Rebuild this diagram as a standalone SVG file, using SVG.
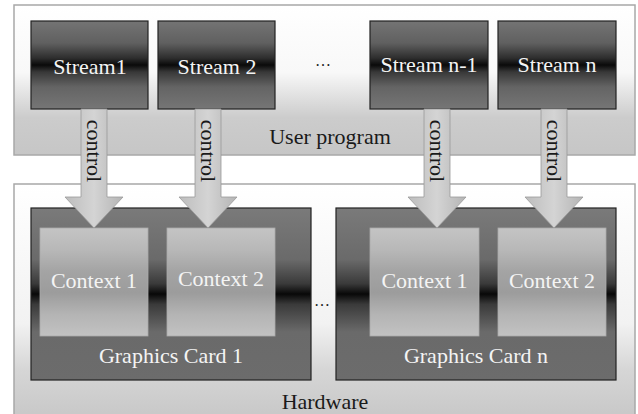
<svg xmlns="http://www.w3.org/2000/svg" width="638" height="414" viewBox="0 0 638 414">
<defs>
<linearGradient id="gOuter" x1="0" y1="0" x2="0" y2="1">
<stop offset="0" stop-color="#ffffff"/>
<stop offset="0.45" stop-color="#f8f8f8"/>
<stop offset="0.6" stop-color="#e2e2e2"/>
<stop offset="0.75" stop-color="#cccccc"/>
<stop offset="1" stop-color="#c6c6c6"/>
</linearGradient>
<linearGradient id="gHw" x1="0" y1="0" x2="0" y2="1">
<stop offset="0" stop-color="#ffffff"/>
<stop offset="0.6" stop-color="#f2f2f2"/>
<stop offset="0.8" stop-color="#d6d6d6"/>
<stop offset="1" stop-color="#c8c8c8"/>
</linearGradient>
<linearGradient id="gStream" x1="0" y1="0" x2="0" y2="1">
<stop offset="0" stop-color="#747474"/>
<stop offset="0.25" stop-color="#606060"/>
<stop offset="0.42" stop-color="#2e2e2e"/>
<stop offset="0.5" stop-color="#0a0a0a"/>
<stop offset="0.58" stop-color="#383838"/>
<stop offset="0.75" stop-color="#646464"/>
<stop offset="1" stop-color="#767676"/>
</linearGradient>
<linearGradient id="gCard" x1="0" y1="0" x2="0" y2="1">
<stop offset="0" stop-color="#7a7a7a"/>
<stop offset="0.3" stop-color="#6a6a6a"/>
<stop offset="0.44" stop-color="#3a3a3a"/>
<stop offset="0.5" stop-color="#080808"/>
<stop offset="0.56" stop-color="#3a3a3a"/>
<stop offset="0.72" stop-color="#6a6a6a"/>
<stop offset="1" stop-color="#6c6c6c"/>
</linearGradient>
<linearGradient id="gCtx" x1="0" y1="0" x2="0" y2="1">
<stop offset="0" stop-color="#c4c4c4"/>
<stop offset="0.2" stop-color="#b8b8b8"/>
<stop offset="0.4" stop-color="#a4a4a4"/>
<stop offset="0.6" stop-color="#9c9c9c"/>
<stop offset="0.8" stop-color="#b4b4b4"/>
<stop offset="1" stop-color="#c2c2c2"/>
</linearGradient>
<linearGradient id="gArrow" x1="0" y1="0" x2="1" y2="0">
<stop offset="0" stop-color="#bdbdbd"/>
<stop offset="0.5" stop-color="#d4d4d4"/>
<stop offset="1" stop-color="#b4b4b4"/>
</linearGradient>
</defs>
<style>
.outer{stroke:#a8a8a8;stroke-width:1.5}
.dark{stroke:#222;stroke-width:1.2}
.ctx{stroke:#aaa;stroke-width:0.8}
.arrow{fill:url(#gArrow);stroke:#999;stroke-width:0.8}
.w{fill:#f4f4f4}
.k{fill:#1a1a1a}
</style>
<rect width="638" height="414" fill="#ffffff"/>
<g font-family="'Liberation Serif', 'DejaVu Serif', serif" font-size="22" text-anchor="middle">
<g id="user-program">
<rect class="outer" x="14" y="5" width="621" height="150" fill="url(#gOuter)"/>
<text class="k" x="330" y="144">User program</text>
</g>
<g id="hardware">
<rect class="outer" x="14" y="184" width="621" height="232" fill="url(#gHw)"/>
<text class="k" x="325" y="409">Hardware</text>
</g>
<g id="stream1">
<rect class="dark" x="31" y="21" width="117" height="88" fill="url(#gStream)"/>
<text class="w" x="90" y="74">Stream1</text>
</g>
<g id="stream2">
<rect class="dark" x="158" y="21" width="117" height="88" fill="url(#gStream)"/>
<text class="w" x="217" y="74">Stream 2</text>
</g>
<g id="ellipsis-top">
<text class="k" x="323" y="66" font-size="16">…</text>
</g>
<g id="stream-n-1">
<rect class="dark" x="370" y="21" width="118" height="88" fill="url(#gStream)"/>
<text class="w" x="429" y="72">Stream n-1</text>
</g>
<g id="stream-n">
<rect class="dark" x="498" y="21" width="118" height="88" fill="url(#gStream)"/>
<text class="w" x="557" y="72">Stream n</text>
</g>
<g id="graphics-card-1">
<rect class="dark" x="31" y="208" width="280" height="172" fill="url(#gCard)"/>
<text class="w" x="171" y="363">Graphics Card 1</text>
</g>
<g id="gc1-context1">
<rect class="ctx" x="40" y="228" width="108" height="108" fill="url(#gCtx)"/>
<text class="w" x="94" y="288">Context 1</text>
</g>
<g id="gc1-context2">
<rect class="ctx" x="167" y="228" width="108" height="108" fill="url(#gCtx)"/>
<text class="w" x="221" y="286">Context 2</text>
</g>
<g id="ellipsis-bottom">
<text class="k" x="322" y="306" font-size="16">…</text>
</g>
<g id="graphics-card-n">
<rect class="dark" x="336" y="208" width="280" height="172" fill="url(#gCard)"/>
<text class="w" x="476" y="363">Graphics Card n</text>
</g>
<g id="gcn-context1">
<rect class="ctx" x="370" y="228" width="109" height="108" fill="url(#gCtx)"/>
<text class="w" x="424.5" y="288">Context 1</text>
</g>
<g id="gcn-context2">
<rect class="ctx" x="498" y="228" width="108" height="108" fill="url(#gCtx)"/>
<text class="w" x="552" y="288">Context 2</text>
</g>
<g id="connectors">
<path class="arrow" d="M81 109 H107 V197 H123 L94 228 L65 197 H81 Z"/>
<text class="k" transform="translate(94 151) rotate(90)" dominant-baseline="central">control</text>
<path class="arrow" d="M195 109 H221 V197 H237 L208 228 L179 197 H195 Z"/>
<text class="k" transform="translate(208 151) rotate(90)" dominant-baseline="central">control</text>
<path class="arrow" d="M424 109 H450 V197 H466 L437 228 L408 197 H424 Z"/>
<text class="k" transform="translate(437 151) rotate(90)" dominant-baseline="central">control</text>
<path class="arrow" d="M541 109 H567 V197 H583 L554 228 L525 197 H541 Z"/>
<text class="k" transform="translate(554 151) rotate(90)" dominant-baseline="central">control</text>
</g>
</g>
</svg>
